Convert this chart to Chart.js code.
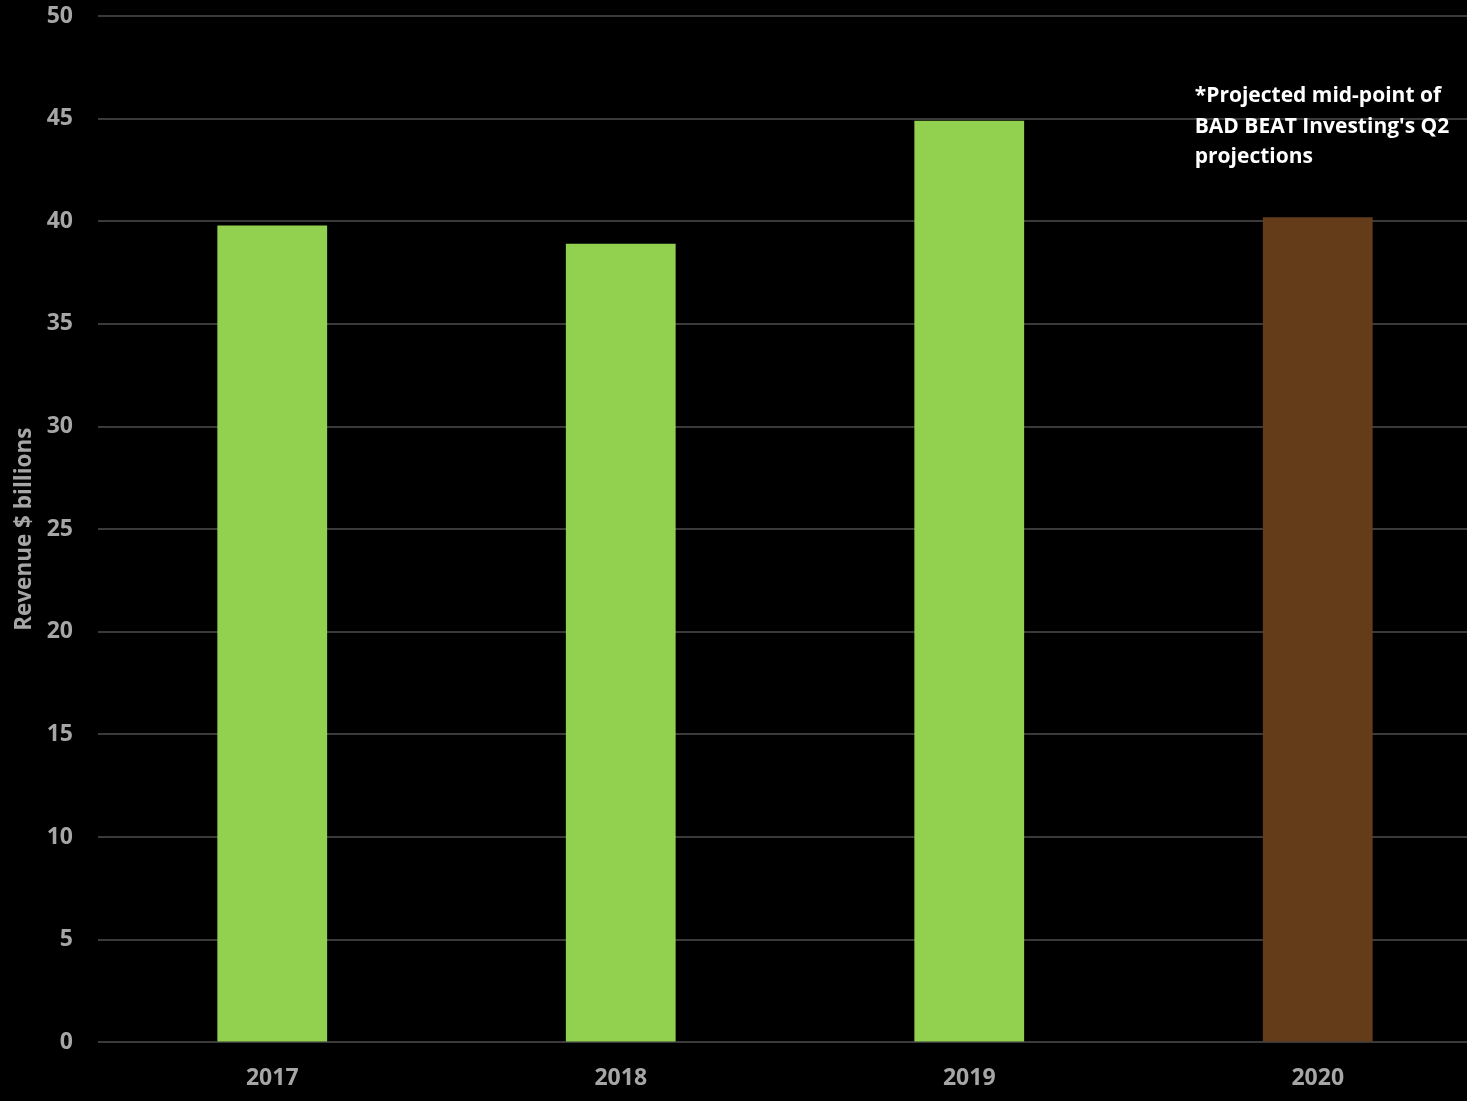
<!DOCTYPE html>
<html>
<head>
<meta charset="utf-8">
<script src="https://cdn.jsdelivr.net/npm/chart.js@4.4.0/dist/chart.umd.min.js"></script>
<style>
    html, body { margin: 0; padding: 0; background: #000; overflow: hidden; }
    #wrap { width: 1494px; height: 1101px; position: relative; }
</style>
</head>
<body>
<div id="wrap"><canvas id="revenueChart"></canvas></div>
<script>
const years = ["2017", "2018", "2019", "2020"];
const revenue = [39.8, 38.9, 44.9, 40.2];
const barColors = ["#92D050", "#92D050", "#92D050", "#643C1A"];
const yTicks = [0, 5, 10, 15, 20, 25, 30, 35, 40, 45, 50];
const noteLines = ["*Projected mid-point of", "BAD BEAT Investing's Q2", "projections"];

const noteLabel = {
    id: "noteLabel",
    afterDraw(chart) {
        const ctx = chart.ctx;
        const x = chart.scales.x.getPixelForValue(3) - 123;
        const y = chart.scales.y.getPixelForValue(46.1);
        ctx.save();
        ctx.fillStyle = "#ffffff";
        ctx.font = "bold 21px 'Open Sans'";
        ctx.textBaseline = "middle";
        noteLines.forEach((line, i) => {
            ctx.fillText(line, x, y + i * 30.5);
        });
        ctx.restore();
    }
};

const canvas = document.getElementById("revenueChart");
const chart = new Chart(canvas, {
    type: "bar",
    data: {
        labels: years,
        datasets: [{
            label: "Revenue",
            data: revenue,
            backgroundColor: barColors,
            barPercentage: 0.315,
            categoryPercentage: 1
        }]
    },
    options: {
        responsive: true,
        maintainAspectRatio: false,
        animation: false,
        layout: { padding: { top: 16, left: 10, right: 2, bottom: -5 } },
        plugins: {
            legend: { display: false },
            tooltip: { enabled: false }
        },
        scales: {
            x: {
                grid: { display: false },
                border: { display: false },
                ticks: {
                    color: "#a6a6a6",
                    font: { family: "'Open Sans'", size: 23, weight: "bold" },
                    padding: 14
                }
            },
            y: {
                min: 0,
                max: 50,
                afterBuildTicks: axis => { axis.ticks = yTicks.map(v => ({ value: v })); },
                afterFit: axis => {
                    axis.width = 88;
                    axis.paddingTop = 0;
                    axis.paddingBottom = 0;
                },
                grid: { color: "#3a3a3a", lineWidth: 2, drawTicks: false },
                border: { display: false },
                ticks: {
                    color: "#a6a6a6",
                    font: { family: "'Open Sans'", size: 23, weight: "bold" },
                    padding: 25
                },
                title: {
                    display: true,
                    text: "Revenue $ billions",
                    color: "#a6a6a6",
                    font: { family: "'Open Sans'", size: 22.5, weight: "bold" },
                    padding: { top: 1, bottom: 4 }
                }
            }
        }
    },
    plugins: [noteLabel]
});
</script>
</body>
</html>
